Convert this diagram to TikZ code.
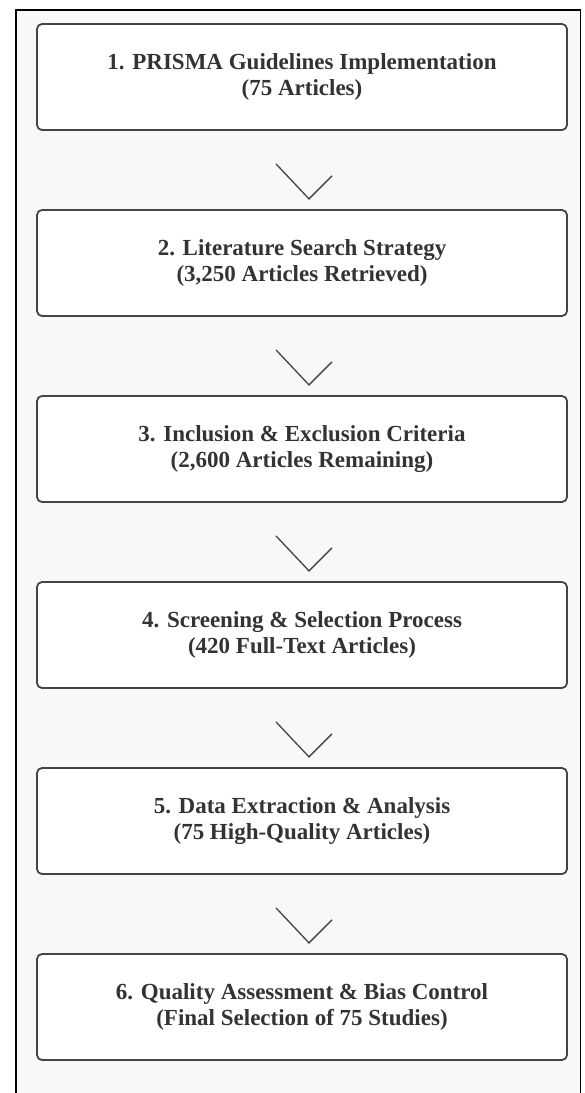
\documentclass[tikz,border=0pt]{standalone}
\usepackage{fontspec}
\setmainfont{Liberation Serif}
\usetikzlibrary{calc,positioning}
\definecolor{panel}{HTML}{F8F8F8}
\definecolor{boxline}{HTML}{444444}
\definecolor{boxtext}{HTML}{333333}

\begin{document}
\begin{tikzpicture}[
  x=1pt, y=-1pt,
  stage/.style={draw=boxline, line width=1.8pt, fill=white, rounded corners=5pt,
    minimum width=530pt, minimum height=106pt, inner sep=0pt, align=center,
    text=boxtext, font=\fontsize{23}{26}\selectfont\bfseries},
  chev/.style={draw=boxline, line width=1.3pt},
  node distance=78.2pt,
  ]

  \useasboundingbox (0,0) rectangle (585,1093);
  \fill[white] (0,0) rectangle (585,1093);
  \fill[panel] (16,10) rectangle (580.5,1093);
  \draw[line width=1.5pt] (16,1093) -- (16,10) -- (580.5,10) -- (580.5,1093);

  \node[stage] (s1) at (302,77) {1. PRISMA Guidelines Implementation\\(75 Articles)};
  \node[stage, below=of s1] (s2) {2. Literature Search Strategy\\(3,250 Articles Retrieved)};
  \node[stage, below=of s2] (s3) {3. Inclusion \& Exclusion Criteria\\(2,600 Articles Remaining)};
  \node[stage, below=of s3] (s4) {4. Screening \& Selection Process\\(420 Full-Text Articles)};
  \node[stage, below=of s4] (s5) {5. Data Extraction \& Analysis\\(75 High-Quality Articles)};
  \node[stage, below=of s5] (s6) {6. Quality Assessment \& Bias Control\\(Final Selection of 75 Studies)};

  % chevrons between the stages
  \foreach \s in {s1,s2,s3,s4,s5}
  {
  \draw[chev] ($(\s.south)+(-26,33)$) -- ($(\s.south)+(7,68)$) -- ($(\s.south)+(30,45)$);
  }

\end{tikzpicture}
\end{document}
